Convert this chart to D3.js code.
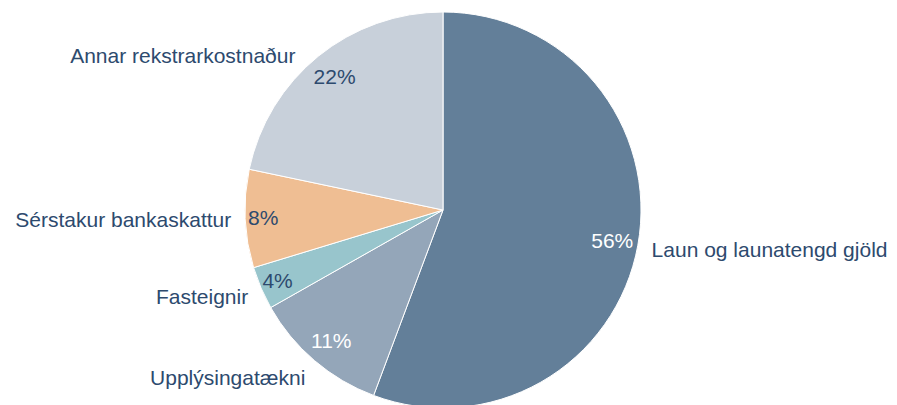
<!DOCTYPE html>
<meta charset="utf-8">
<title>Rekstrarkostnaður</title>
<script src="https://cdn.jsdelivr.net/npm/d3@7"></script>
<style>
body { margin:0; background:#fff; }
svg { display:block; font-family:"Liberation Sans", Arial, sans-serif; }
.cat { fill:#2d4a6e; font-size:21px; }
.pct { font-size:21px; }
</style>
<svg width="897" height="405"></svg>
<script>

var categories = ["Laun og launatengd gjöld", "Upplýsingatækni", "Fasteignir",
                  "Sérstakur bankaskattur", "Annar rekstrarkostnaður"];
var values = [55.7, 11.1, 3.5, 8.0, 21.7];
var colors = ["#637f99", "#94a6b9", "#98c5cc", "#efbe93", "#c8d0da"];
var pctColors = ["#ffffff", "#ffffff", "#2d4a6e", "#2d4a6e", "#2d4a6e"];

// Excel puts this one a bit off the generic spot
var labelNudge = {"Annar rekstrarkostnaður": [-14, 16]};

var svg = d3.select("svg"),
    cx = 443, cy = 210, radius = 198;

var data = categories.map(function(c, i) {
  return {name: c, value: values[i], color: colors[i], pct: pctColors[i]};
});

var pie = d3.pie().sort(null).value(function(d) { return d.value; });
var arc = d3.arc().innerRadius(0).outerRadius(radius);

var g = svg.append("g")
    .attr("transform", "translate(" + cx + "," + cy + ")");

var arcs = pie(data);

g.selectAll(".slice")
  .data(arcs)
  .enter().append("path")
    .attr("class", "slice")
    .attr("d", arc)
    .attr("fill", function(d) { return d.data.color; })
    .attr("stroke", "#fff")
    .attr("stroke-width", 1);

function mid(d) { return (d.startAngle + d.endAngle) / 2; }

g.selectAll(".pct")
  .data(arcs)
  .enter().append("text")
    .attr("class", "pct")
    .attr("x", function(d) { var r = d.data.value < 10 ? 180 : 172; return r * Math.sin(mid(d)); })
    .attr("y", function(d) { var r = d.data.value < 10 ? 180 : 172; return -r * Math.cos(mid(d)); })
    .attr("text-anchor", "middle")
    .attr("dy", "0.35em")
    .attr("fill", function(d) { return d.data.pct; })
    .text(function(d) { return Math.round(d.data.value) + "%"; });

g.selectAll(".cat")
  .data(arcs)
  .enter().append("text")
    .attr("class", "cat")
    .attr("x", function(d) {
      var n = labelNudge[d.data.name] || [0, 0];
      return 212 * Math.sin(mid(d)) + n[0];
    })
    .attr("y", function(d) {
      var n = labelNudge[d.data.name] || [0, 0];
      return -212 * Math.cos(mid(d)) - 8 * Math.cos(mid(d)) + n[1];
    })
    .attr("dy", "0.35em")
    .attr("text-anchor", function(d) { return Math.sin(mid(d)) > 0 ? "start" : "end"; })
    .text(function(d) { return d.data.name; });

</script>
</html>
